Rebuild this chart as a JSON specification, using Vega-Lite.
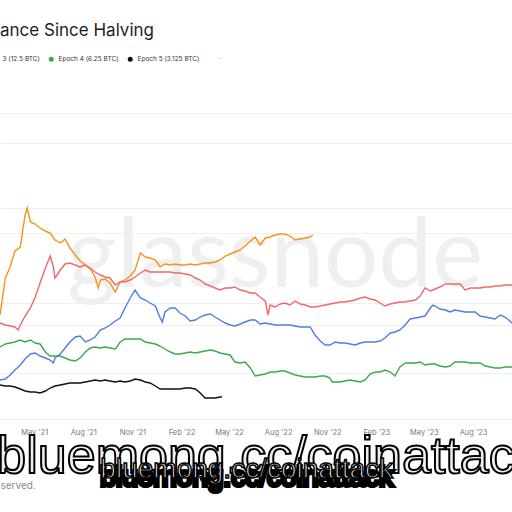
{
  "$schema": "https://vega.github.io/schema/vega-lite/v6.json",
  "width": 512,
  "height": 350,
  "autosize": {"type": "none"},
  "padding": {"left": 0, "top": 70, "right": 0, "bottom": 92},
  "background": "#ffffff",
  "config": {"view": {"stroke": null}, "font": "Inter"},
  "title": {"text": "ance Since Halving", "anchor": "start", "frame": "group", "font": "Inter", "fontSize": 17, "fontWeight": 400, "color": "#1e1e1e", "offset": 16},
  "layer": [
    {
      "data": {"values": [{}]},
      "mark": {"type": "text", "align": "center", "baseline": "alphabetic", "font": "Lato", "fontSize": 96},
      "encoding": {
        "x": {"datum": {"year": 2022, "month": 7, "date": 26, "utc": true}, "type": "temporal"},
        "y": {"datum": 1.16, "type": "quantitative"},
        "text": {"value": "glassnode"},
        "color": {"value": "#efefef"}
      }
    },
    {
      "data": {"values": [
        {"date": "2021-02-26", "e1": 0.88, "e2": 0.80, "e3": 0.23, "e4": 0.56, "e5": 0.18},
        {"date": "2021-03-08", "e1": 1.25, "e2": 0.78, "e3": 0.24, "e4": 0.59, "e5": 0.17},
        {"date": "2021-03-17", "e1": 1.36, "e2": 0.77, "e3": 0.28, "e4": 0.60, "e5": 0.17},
        {"date": "2021-03-26", "e1": 1.52, "e2": 0.76, "e3": 0.33, "e4": 0.61, "e5": 0.16},
        {"date": "2021-04-01", "e2": 0.73},
        {"date": "2021-04-05", "e1": 1.56, "e2": 0.78, "e3": 0.38, "e4": 0.63, "e5": 0.14},
        {"date": "2021-04-14", "e1": 1.88, "e2": 0.87, "e3": 0.44, "e4": 0.61, "e5": 0.12},
        {"date": "2021-04-18", "e1": 1.95},
        {"date": "2021-04-24", "e1": 1.81, "e2": 0.95, "e3": 0.49, "e4": 0.63, "e5": 0.11},
        {"date": "2021-05-03", "e1": 1.79, "e2": 1.06, "e3": 0.50, "e4": 0.60, "e5": 0.11},
        {"date": "2021-05-12", "e1": 1.75, "e2": 1.20, "e3": 0.47, "e4": 0.59, "e5": 0.10},
        {"date": "2021-05-22", "e1": 1.72, "e2": 1.35, "e3": 0.45, "e4": 0.51, "e5": 0.12},
        {"date": "2021-05-31", "e1": 1.70, "e2": 1.47, "e3": 0.43, "e4": 0.47, "e5": 0.15},
        {"date": "2021-06-06", "e2": 1.36, "e3": 0.40},
        {"date": "2021-06-09", "e1": 1.63, "e2": 1.25, "e3": 0.45, "e4": 0.47, "e5": 0.17},
        {"date": "2021-06-19", "e1": 1.60, "e2": 1.33, "e3": 0.49, "e4": 0.47, "e5": 0.18},
        {"date": "2021-06-28", "e1": 1.64, "e2": 1.39, "e3": 0.55, "e4": 0.45, "e5": 0.19},
        {"date": "2021-07-07", "e1": 1.55, "e2": 1.40, "e3": 0.61, "e4": 0.43, "e5": 0.20},
        {"date": "2021-07-17", "e1": 1.48, "e2": 1.38, "e3": 0.66, "e4": 0.42, "e5": 0.20},
        {"date": "2021-07-26", "e1": 1.42, "e2": 1.36, "e3": 0.67, "e4": 0.45, "e5": 0.20},
        {"date": "2021-08-05", "e1": 1.38, "e2": 1.38, "e3": 0.61, "e4": 0.51, "e5": 0.21},
        {"date": "2021-08-14", "e1": 1.34, "e2": 1.35, "e3": 0.63, "e4": 0.55, "e5": 0.22},
        {"date": "2021-08-23", "e1": 1.26, "e2": 1.31, "e3": 0.66, "e4": 0.56, "e5": 0.23},
        {"date": "2021-08-29", "e1": 1.15},
        {"date": "2021-09-02", "e1": 1.23, "e2": 1.28, "e3": 0.73, "e4": 0.55, "e5": 0.22},
        {"date": "2021-09-11", "e1": 1.24, "e2": 1.26, "e3": 0.75, "e4": 0.56, "e5": 0.23},
        {"date": "2021-09-20", "e1": 1.20, "e2": 1.25, "e3": 0.78, "e4": 0.55, "e5": 0.22},
        {"date": "2021-09-30", "e1": 1.11, "e2": 1.18, "e3": 0.82, "e4": 0.54, "e5": 0.21},
        {"date": "2021-10-09", "e1": 1.21, "e2": 1.21, "e3": 0.85, "e4": 0.61, "e5": 0.22},
        {"date": "2021-10-18", "e1": 1.23, "e2": 1.21, "e3": 0.95, "e4": 0.64, "e5": 0.21},
        {"date": "2021-10-28", "e1": 1.27, "e2": 1.23, "e3": 1.05, "e4": 0.64, "e5": 0.22},
        {"date": "2021-11-06", "e1": 1.33, "e2": 1.26, "e3": 1.13, "e4": 0.64, "e5": 0.24},
        {"date": "2021-11-16", "e1": 1.50, "e2": 1.30, "e3": 1.05, "e4": 0.64, "e5": 0.23},
        {"date": "2021-11-25", "e1": 1.46, "e2": 1.33, "e3": 1.03, "e4": 0.61, "e5": 0.21},
        {"date": "2021-12-04", "e1": 1.45, "e2": 1.31, "e3": 1.00, "e4": 0.60, "e5": 0.20},
        {"date": "2021-12-14", "e1": 1.43, "e2": 1.31, "e3": 0.97, "e4": 0.59, "e5": 0.17},
        {"date": "2021-12-23", "e1": 1.36, "e2": 1.31, "e3": 0.85, "e4": 0.57, "e5": 0.14},
        {"date": "2021-12-27", "e3": 0.81},
        {"date": "2022-01-01", "e1": 1.39, "e2": 1.31, "e3": 0.91, "e4": 0.54, "e5": 0.14},
        {"date": "2022-01-11", "e1": 1.38, "e2": 1.31, "e3": 0.95, "e4": 0.51, "e5": 0.14},
        {"date": "2022-01-20", "e1": 1.39, "e2": 1.30, "e3": 0.95, "e4": 0.49, "e5": 0.14},
        {"date": "2022-01-29", "e1": 1.38, "e2": 1.30, "e3": 0.90, "e4": 0.49, "e5": 0.14},
        {"date": "2022-02-08", "e1": 1.38, "e2": 1.29, "e3": 0.87, "e4": 0.50, "e5": 0.15},
        {"date": "2022-02-17", "e1": 1.39, "e2": 1.28, "e3": 0.82, "e4": 0.51, "e5": 0.15},
        {"date": "2022-02-27", "e1": 1.38, "e2": 1.25, "e3": 0.83, "e4": 0.50, "e5": 0.14},
        {"date": "2022-03-08", "e1": 1.39, "e2": 1.23, "e3": 0.86, "e4": 0.51, "e5": 0.10},
        {"date": "2022-03-17", "e1": 1.40, "e2": 1.19, "e3": 0.88, "e4": 0.52, "e5": 0.05},
        {"date": "2022-03-27", "e1": 1.40, "e2": 1.17, "e3": 0.89, "e4": 0.53, "e5": 0.05},
        {"date": "2022-04-05", "e1": 1.41, "e2": 1.15, "e3": 0.86, "e4": 0.52, "e5": 0.05},
        {"date": "2022-04-14", "e1": 1.43, "e2": 1.13, "e3": 0.83, "e4": 0.50, "e5": 0.06},
        {"date": "2022-04-18", "e5": 0.06},
        {"date": "2022-04-24", "e1": 1.47, "e2": 1.15, "e3": 0.80, "e4": 0.49},
        {"date": "2022-05-03", "e1": 1.49, "e2": 1.15, "e3": 0.78, "e4": 0.48},
        {"date": "2022-05-12", "e1": 1.51, "e2": 1.16, "e3": 0.77, "e4": 0.41},
        {"date": "2022-05-22", "e1": 1.53, "e2": 1.13, "e3": 0.79, "e4": 0.40},
        {"date": "2022-05-31", "e1": 1.57, "e2": 1.12, "e3": 0.81, "e4": 0.41},
        {"date": "2022-06-10", "e1": 1.62, "e2": 1.10, "e3": 0.83, "e4": 0.35},
        {"date": "2022-06-19", "e1": 1.66, "e2": 1.10, "e3": 0.83, "e4": 0.27},
        {"date": "2022-06-28", "e1": 1.58, "e2": 1.06, "e3": 0.79, "e4": 0.28},
        {"date": "2022-07-08", "e1": 1.65, "e2": 1.02, "e3": 0.80, "e4": 0.29},
        {"date": "2022-07-13", "e2": 0.88},
        {"date": "2022-07-17", "e1": 1.66, "e2": 0.98, "e3": 0.79, "e4": 0.31},
        {"date": "2022-07-26", "e1": 1.68, "e2": 0.96, "e3": 0.78, "e4": 0.31},
        {"date": "2022-08-05", "e1": 1.69, "e2": 0.99, "e3": 0.78, "e4": 0.32},
        {"date": "2022-08-14", "e1": 1.69, "e2": 1.00, "e3": 0.78, "e4": 0.32},
        {"date": "2022-08-23", "e1": 1.67, "e2": 0.98, "e3": 0.78, "e4": 0.30},
        {"date": "2022-09-02", "e1": 1.63, "e2": 1.02, "e3": 0.77, "e4": 0.28},
        {"date": "2022-09-11", "e1": 1.64, "e2": 0.99, "e3": 0.76, "e4": 0.27},
        {"date": "2022-09-21", "e1": 1.65, "e2": 0.98, "e3": 0.76, "e4": 0.26},
        {"date": "2022-09-30", "e1": 1.66, "e2": 0.96, "e3": 0.76, "e4": 0.26},
        {"date": "2022-10-05", "e1": 1.68},
        {"date": "2022-10-09", "e2": 0.96, "e3": 0.68, "e4": 0.26},
        {"date": "2022-10-19", "e2": 0.97, "e3": 0.62, "e4": 0.27},
        {"date": "2022-10-28", "e2": 0.98, "e3": 0.58, "e4": 0.27},
        {"date": "2022-11-06", "e2": 0.99, "e3": 0.58, "e4": 0.25},
        {"date": "2022-11-10", "e4": 0.21},
        {"date": "2022-11-16", "e2": 1.00, "e3": 0.61, "e4": 0.21},
        {"date": "2022-11-25", "e2": 1.01, "e3": 0.60, "e4": 0.21},
        {"date": "2022-12-04", "e2": 1.01, "e3": 0.60, "e4": 0.22},
        {"date": "2022-12-14", "e2": 1.02, "e3": 0.59, "e4": 0.23},
        {"date": "2022-12-23", "e2": 1.03, "e3": 0.58, "e4": 0.22},
        {"date": "2023-01-02", "e2": 1.05, "e3": 0.60, "e4": 0.21},
        {"date": "2023-01-11", "e2": 1.06, "e3": 0.61, "e4": 0.23},
        {"date": "2023-01-20", "e2": 1.04, "e3": 0.61, "e4": 0.29},
        {"date": "2023-01-30", "e2": 1.03, "e3": 0.61, "e4": 0.31},
        {"date": "2023-02-08", "e2": 1.00, "e3": 0.62, "e4": 0.31},
        {"date": "2023-02-17", "e2": 0.97, "e3": 0.65, "e4": 0.33},
        {"date": "2023-02-27", "e2": 0.99, "e3": 0.70, "e4": 0.31},
        {"date": "2023-03-08", "e2": 1.00, "e3": 0.71, "e4": 0.27},
        {"date": "2023-03-17", "e2": 1.01, "e3": 0.73, "e4": 0.36},
        {"date": "2023-03-27", "e2": 1.01, "e3": 0.78, "e4": 0.40},
        {"date": "2023-04-05", "e2": 1.02, "e3": 0.84, "e4": 0.40},
        {"date": "2023-04-15", "e2": 1.03, "e3": 0.85, "e4": 0.40},
        {"date": "2023-04-24", "e2": 1.07, "e3": 0.86, "e4": 0.41},
        {"date": "2023-05-03", "e2": 1.15, "e3": 0.87, "e4": 0.38},
        {"date": "2023-05-13", "e2": 1.12, "e3": 0.95, "e4": 0.39},
        {"date": "2023-05-18", "e3": 0.98},
        {"date": "2023-05-22", "e2": 1.14, "e3": 0.97, "e4": 0.39},
        {"date": "2023-05-31", "e2": 1.16, "e3": 0.94, "e4": 0.37},
        {"date": "2023-06-10", "e2": 1.19, "e3": 0.93, "e4": 0.36},
        {"date": "2023-06-19", "e2": 1.19, "e3": 0.91, "e4": 0.37},
        {"date": "2023-06-28", "e2": 1.19, "e3": 0.93, "e4": 0.41},
        {"date": "2023-07-08", "e2": 1.19, "e3": 0.92, "e4": 0.41},
        {"date": "2023-07-17", "e2": 1.13, "e3": 0.91, "e4": 0.41},
        {"date": "2023-07-27", "e2": 1.15, "e3": 0.91, "e4": 0.40},
        {"date": "2023-08-05", "e2": 1.15, "e3": 0.91, "e4": 0.40},
        {"date": "2023-08-14", "e2": 1.15, "e3": 0.87, "e4": 0.40},
        {"date": "2023-08-24", "e2": 1.16, "e3": 0.86, "e4": 0.37},
        {"date": "2023-09-02", "e2": 1.16, "e3": 0.85, "e4": 0.36},
        {"date": "2023-09-11", "e2": 1.17, "e3": 0.84, "e4": 0.35},
        {"date": "2023-09-21", "e2": 1.17, "e3": 0.88, "e4": 0.35},
        {"date": "2023-09-30", "e2": 1.18, "e3": 0.86, "e4": 0.36},
        {"date": "2023-10-09", "e2": 1.18, "e3": 0.82, "e4": 0.36},
        {"date": "2023-10-13", "e2": 1.18, "e3": 0.80, "e4": 0.36}
      ]},
      "transform": [
        {"fold": ["e1", "e2", "e3", "e4", "e5"], "as": ["series", "roi"]},
        {"filter": "isValid(datum.roi)"}
      ],
      "mark": {"type": "line", "strokeWidth": 1.4, "interpolate": "linear"},
      "encoding": {
        "x": {
          "field": "date", "type": "temporal",
          "scale": {"type": "utc", "domain": [{"year": 2021, "month": 2, "date": 26, "utc": true}, {"year": 2023, "month": 10, "date": 13, "utc": true}]},
          "axis": {
            "values": [
              {"year": 2021, "month": 2, "date": 1, "utc": true},
              {"year": 2021, "month": 5, "date": 1, "utc": true},
              {"year": 2021, "month": 8, "date": 1, "utc": true},
              {"year": 2021, "month": 11, "date": 1, "utc": true},
              {"year": 2022, "month": 2, "date": 1, "utc": true},
              {"year": 2022, "month": 5, "date": 1, "utc": true},
              {"year": 2022, "month": 8, "date": 1, "utc": true},
              {"year": 2022, "month": 11, "date": 1, "utc": true},
              {"year": 2023, "month": 2, "date": 1, "utc": true},
              {"year": 2023, "month": 5, "date": 1, "utc": true},
              {"year": 2023, "month": 8, "date": 1, "utc": true},
              {"year": 2023, "month": 11, "date": 1, "utc": true}
            ],
            "format": "%b '%y",
            "labelFont": "Inter", "labelFontSize": 7.5, "labelColor": "#7a7a7a",
            "labelPadding": 8, "labelOverlap": false, "labelFlush": false,
            "domain": false, "ticks": false, "grid": false,
            "title": "served.", "titleFont": "Inter", "titleFontSize": 10, "titleFontWeight": 400, "titleColor": "#8a8a8a",
            "titleAnchor": "start", "titleAlign": "left", "titleBaseline": "alphabetic", "titleX": 0, "titleY": 68
          }
        },
        "y": {
          "field": "roi", "type": "quantitative",
          "scale": {"domain": [-0.17, 3.33], "nice": false, "zero": false},
          "axis": {
            "values": [-0.155, -0.097, -0.046, 0, 0.301, 0.477, 0.602, 0.699, 0.778, 0.845, 0.903, 0.954, 1, 1.301, 1.477, 1.602, 1.699, 1.778, 1.845, 1.903, 1.954, 2, 2.301, 2.477, 2.602, 2.699, 2.778, 2.845, 2.903, 2.954, 3],
            "labels": false, "ticks": false, "domain": false, "title": null,
            "grid": true, "gridColor": "#efefef", "gridWidth": 1
          }
        },
        "color": {
          "field": "series", "type": "nominal",
          "scale": {"domain": ["e1", "e2", "e3", "e4", "e5", "-"], "range": ["#f7931a", "#f0686c", "#4c7fe0", "#3aa94a", "#111111", "#ffffff"]},
          "legend": {
            "values": ["e3", "e4", "e5", "-"],
            "labelExpr": "datum.value == 'e3' ? '3 (12.5 BTC)' : datum.value == 'e4' ? 'Epoch 4 (6.25 BTC)' : datum.value == 'e5' ? 'Epoch 5 (3.125 BTC)' : '-'",
            "orient": "none", "legendX": -8, "legendY": -14, "direction": "horizontal", "gridAlign": "none",
            "title": null, "symbolType": "circle", "symbolSize": 25, "symbolStrokeWidth": 0,
            "labelFont": "Inter", "labelFontSize": 6.5, "labelColor": "#333333", "labelOffset": 4, "columnPadding": 8,
            "encode": {
              "symbols": {"update": {"fill": {"scale": "color", "field": "value"}, "opacity": {"value": 1}}},
              "labels": {"update": {"fill": {"signal": "datum.value === '-' ? '#bbbbbb' : '#333333'"}}}
            }
          }
        }
      }
    },
    {
      "data": {"values": [{}]},
      "mark": {"type": "text", "align": "left", "baseline": "alphabetic", "font": "Liberation Sans", "fontSize": 52, "stroke": "#000000", "strokeWidth": 2},
      "encoding": {
        "x": {"datum": {"year": 2021, "month": 2, "date": 21, "utc": true}, "type": "temporal"},
        "y": {"datum": -0.70, "type": "quantitative"},
        "text": {"value": "bluemong.cc/coinattack"},
        "fill": {"value": "#eeeeee"}
      }
    },
    {
      "data": {"values": [{}]},
      "mark": {"type": "text", "align": "left", "baseline": "alphabetic", "font": "Liberation Sans", "fontSize": 28, "stroke": "#000000", "strokeWidth": 4},
      "encoding": {
        "x": {"datum": {"year": 2021, "month": 9, "date": 2, "utc": true}, "type": "temporal"},
        "y": {"datum": -0.83, "type": "quantitative"},
        "text": {"value": "bluemong.cc/coinattack"},
        "fill": {"value": "#000000"}
      }
    },
    {
      "data": {"values": [{}]},
      "mark": {"type": "text", "align": "left", "baseline": "alphabetic", "font": "Liberation Sans", "fontSize": 28, "stroke": "#000000", "strokeWidth": 1.5},
      "encoding": {
        "x": {"datum": {"year": 2021, "month": 9, "date": 2, "utc": true}, "type": "temporal"},
        "y": {"datum": -0.75, "type": "quantitative"},
        "text": {"value": "bluemong.cc/coinattack"},
        "fill": {"value": "#ffffff"}
      }
    }
  ]
}
